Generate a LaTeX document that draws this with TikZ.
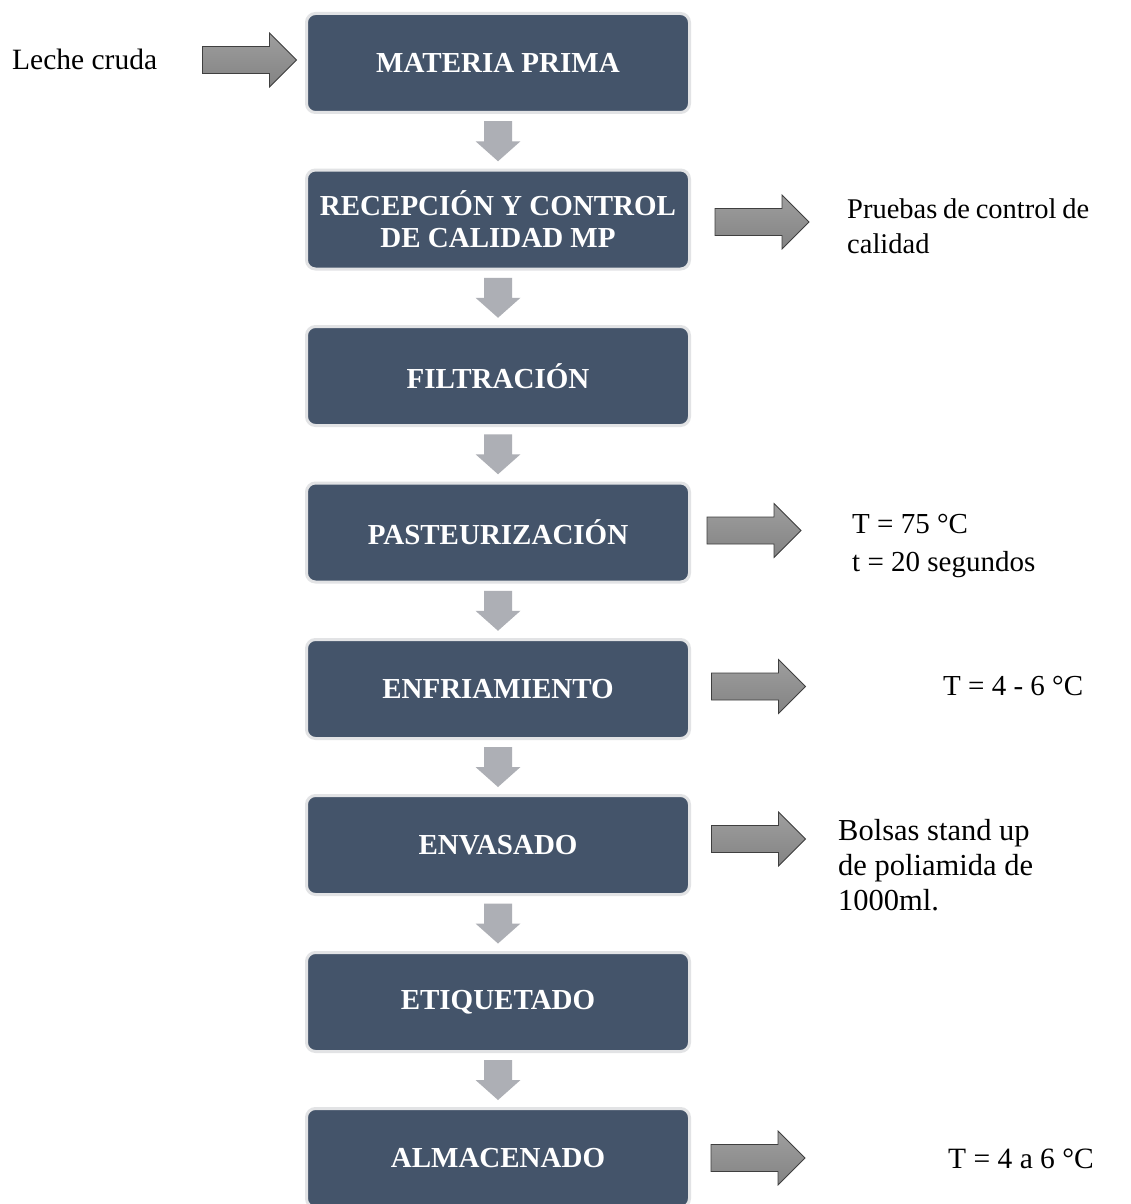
\documentclass[tikz,border=0pt]{standalone}
\usepackage{fontspec}
\setmainfont{Liberation Serif}
\usetikzlibrary{calc}
\definecolor{boxfill}{HTML}{44546A}
\definecolor{boxedge}{HTML}{E2E3E5}
\definecolor{downgray}{HTML}{ADAFB5}
\definecolor{arrowedge}{HTML}{3F3F3F}
\definecolor{arrowtop}{HTML}{9E9E9E}
\definecolor{arrowbot}{HTML}{838383}
\tikzset{
  stepbox/.style={rectangle, rounded corners=9pt, fill=boxfill, draw=boxedge,
    line width=3pt, minimum width=383pt, minimum height=99pt, text=white,
    font=\fontsize{29}{32}\selectfont\bfseries, align=center, inner sep=0pt},
  downfill/.style={fill=downgray, draw=none},
  sidefill/.style={top color=arrowtop, bottom color=arrowbot, draw=arrowedge,
    line width=0.8pt, line join=miter},
  note/.style={anchor=base west, inner sep=0pt, align=left},
  darrow/.pic={\path[downfill] (-14,-20) -- (14,-20) -- (14,0) -- (22.5,0)
    -- (0,20) -- (-22.5,0) -- (-14,0) -- cycle;},
  rarrow/.pic={\path[sidefill] (-47,-13.5) -- (20,-13.5) -- (20,-27) -- (47,0)
    -- (20,27) -- (20,13.5) -- (-47,13.5) -- cycle;}
}
\begin{document}
\begin{tikzpicture}[x=1pt,y=-1pt]
\clip (0,0) rectangle (1130,1204);
\fill[white] (0,0) rectangle (1130,1204);
% process boxes
\node[stepbox] (b1) at (498,63) {MATERIA PRIMA};
\node[stepbox] (b2) at (498,219.5) {RECEPCIÓN Y CONTROL\\DE CALIDAD MP};
\node[stepbox] (b3) at (498,376) {FILTRACIÓN};
\node[stepbox] (b4) at (498,532.5) {PASTEURIZACIÓN};
\node[stepbox] (b5) at (498,689) {ENFRIAMIENTO};
\node[stepbox] (b6) at (498,845) {ENVASADO};
\node[stepbox] (b7) at (498,1002) {ETIQUETADO};
\node[stepbox] (b8) at (498,1158) {ALMACENADO};
% down arrows between boxes
\foreach \a/\b in {b1/b2,b2/b3,b3/b4,b4/b5,b5/b6,b6/b7,b7/b8}
  \coordinate (d\a) at ($(\a.south)!0.5!(\b.north)$);
\foreach \a in {b1,b2,b3,b4,b5,b6,b7}
  \pic at (d\a) {darrow};
% side arrows
\coordinate (s0) at (249.5,60);
\coordinate (s2) at (762,222);
\coordinate (s4) at (754,530.5);
\coordinate (s5) at (758.5,686.5);
\coordinate (s6) at (758.5,839);
\coordinate (s8) at (758,1158);
\foreach \s in {s0,s2,s4,s5,s6,s8}
  \pic at (\s) {rarrow};
% notes
\node[note, font=\fontsize{29.5}{34}\selectfont] (t0) at (12,70) {Leche cruda};
\node[note, font=\fontsize{28.5}{35}\selectfont] (t2) at (847,253)
  {\hbox to 242pt{Pruebas\hfill de\hfill control\hfill de}\\calidad};
\node[note, font=\fontsize{29}{38}\selectfont] (t4) at (852,571)
  {T = 75 °C\\t = 20 segundos};
\node[note, font=\fontsize{29}{34}\selectfont] (t5) at (943,695) {T = 4 - 6 °C};
\node[note, font=\fontsize{30.5}{35}\selectfont] (t6) at (838,910)
  {Bolsas stand up\\de poliamida de\\1000ml.};
\node[note, font=\fontsize{29.5}{34}\selectfont] (t8) at (948,1168) {T = 4 a 6 °C};
\end{tikzpicture}
\end{document}
